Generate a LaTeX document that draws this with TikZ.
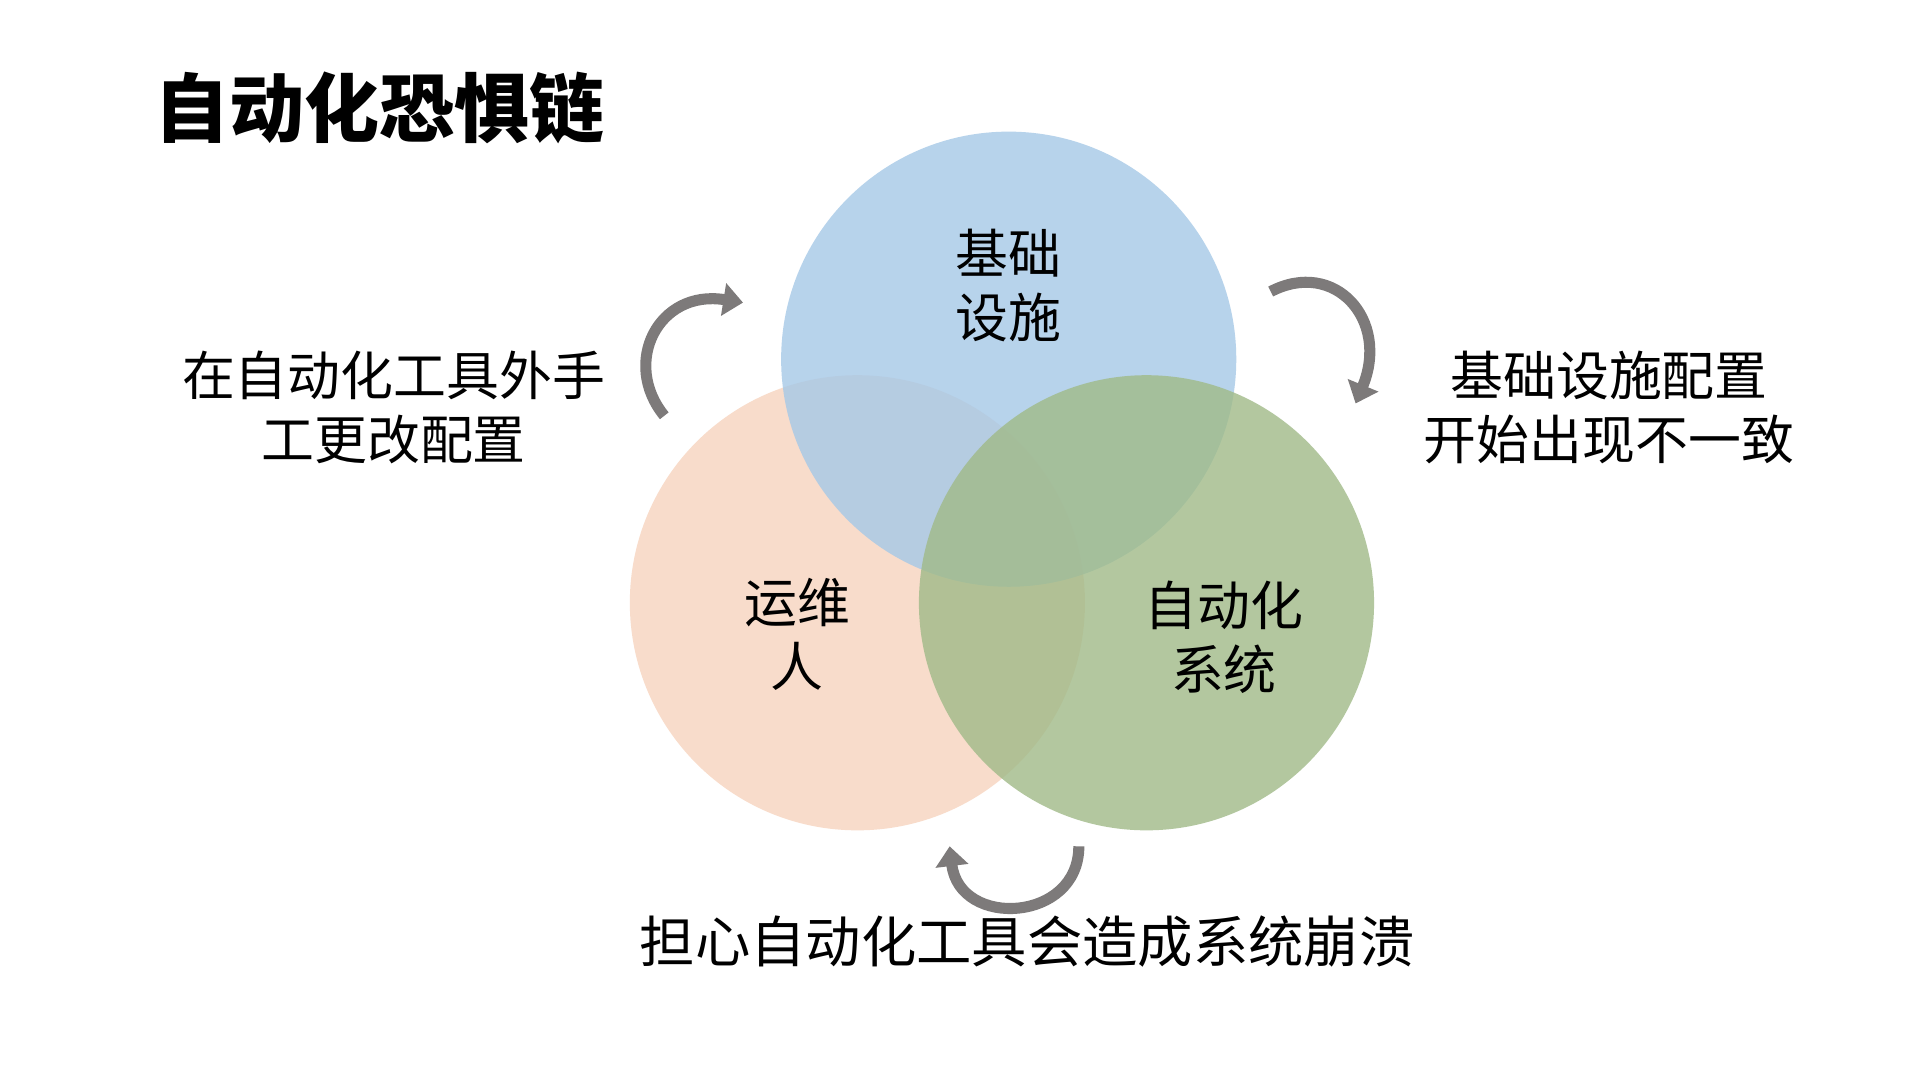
\documentclass[tikz,border=0pt]{standalone}
\usepackage{fontspec}
\setmainfont{Noto Sans CJK SC}
\usetikzlibrary{arrows.meta}
\definecolor{cblue}{RGB}{165,200,231}
\definecolor{corange}{RGB}{247,212,190}
\definecolor{cgreen}{RGB}{160,186,136}
\definecolor{carrow}{RGB}{125,122,122}
\tikzset{circ/.style={circle,minimum size=370pt,inner sep=0pt,opacity=0.8,draw=none},
lbl/.style={font=\fontsize{43}{52}\selectfont,align=center,text=black},
garrow/.style={carrow,line width=9pt,-{Triangle[length=16pt,width=26pt]}}}
\begin{document}
\begin{tikzpicture}[x=1pt,y=-1pt]
\useasboundingbox (0,0) rectangle (1560,877);
\fill[white] (0,0) rectangle (1560,877);
\node[circ,fill=corange] (L) at (697,490) {};
\node[circ,fill=cblue] (T) at (820,292) {};
\node[circ,fill=cgreen] (R) at (932,490) {};
\node[lbl,anchor=west,font=\fontsize{61}{70}\selectfont\bfseries] (title) at (122,88) {自动化恐惧链};
\node[lbl] (tl) at (820,232) {基础\\设施};
\node[lbl] (ll) at (648,516) {运维\\人};
\node[lbl] (rl) at (995,518) {自动化\\系统};
\node[lbl] (left) at (320,331) {在自动化工具外手\\工更改配置};
\node[lbl] (right) at (1308,331) {基础设施配置\\开始出现不一致};
\node[lbl,font=\fontsize{45}{52}\selectfont] (bottom) at (835,765) {担心自动化工具会造成系统崩溃};
\coordinate (a1) at (540,338); \coordinate (a2) at (604,246);
\coordinate (b1) at (1033,237); \coordinate (b2) at (1102,328);
\coordinate (c1) at (877,688); \coordinate (c2) at (772,688);
\draw[garrow] (a1) .. controls (505,295) and (535,235) .. (a2);
\draw[garrow] (b1) .. controls (1085,210) and (1130,260) .. (b2);
\draw[garrow] (c1) .. controls (877,750) and (780,755) .. (c2);
\end{tikzpicture}
\end{document}
